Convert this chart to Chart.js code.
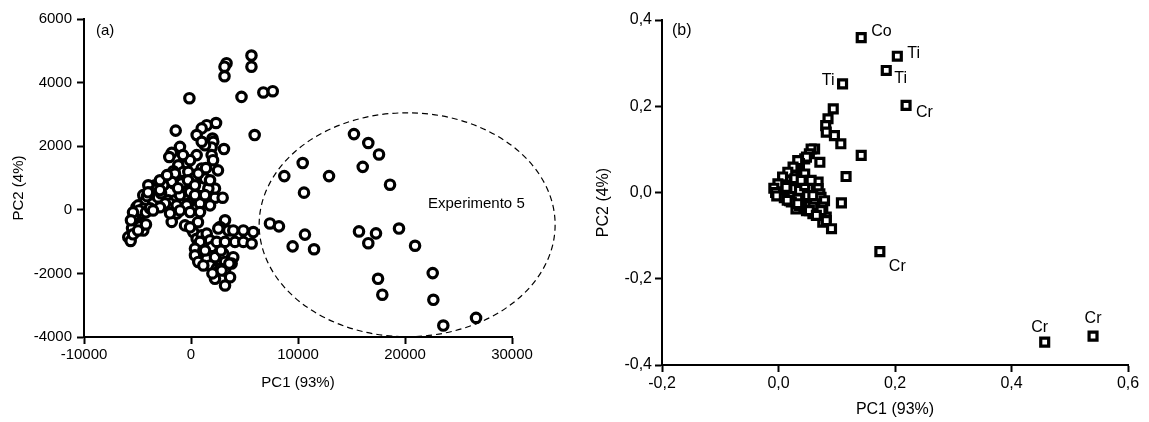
<!DOCTYPE html>
<html>
<head>
<meta charset="utf-8">
<script src="https://cdn.jsdelivr.net/npm/chart.js@4.4.1/dist/chart.umd.min.js"></script>
<style>
  html, body { margin: 0; padding: 0; background: #fff; }
  #wrap { position: relative; width: 1149px; height: 422px; overflow: hidden; }
  #scores { position: absolute; left: 0; top: 0; }
  #loadings { position: absolute; left: 574px; top: 0; }
</style>
</head>
<body>
<div id="wrap">
  <canvas id="scores" width="574" height="422"></canvas>
  <canvas id="loadings" width="575" height="422"></canvas>
</div>
<script>
const FONT = "'Liberation Sans', Arial, Helvetica, sans-serif";

// ---- (a) PCA scores ----
const clusterPC1 = [
  -150, 3320, 3130, 3130, 5650, 5650, 4720, 6760, 7640, 5950,
  -1430, -1030, -1800, -2030, 2340, 1470, 1000, 530, 2010, 2080,
  3080, 1930, 1930, 1310, 1000, 530, -400, -1190, -720, -1650,
  -250, 1000, 840, 1150, 210, -1500, -2430, -3360, -1650, -720,
  1000, -2120, -1500, -1030, -90, 2240, 2960, 840, -250, 2240,
  -3830, -4460, -5080, 1620, 1310, 680, -1500, -1800, -2590, -3990,
  -3830, -3360, -2900, -4300, -4930, -4460, -4610, -5080, -4930, -4460,
  -5230, -5860, -5640, -1030, -1960, -2430, -1340, -1340, -400, -90,
  840, -1800, -560, 210, 530, 1000, 1470, 1780, 840, 370,
  1150, 1930, 2400, 3180, 2710, 3490, 3950, 4890, 5820, 4110,
  4890, 5670, 3180, 370, 680, 1470, 2240, 3020, 3950, 3800,
  3180, 1780, 1150, 2400, 3180, 2240, 3650, 3180, 2710, 2550,
  3580, 2870,
  -5510, -5330, -4860, -4110, -3650, -3180, -5420, -4770, -4210, -3550,
  -3080, -2800, -3830, -2900, -870,
  -2900, -2240, -1210, -280, 370, 1310, 1780, -1030, -1960, -2900,
  -3550, 370, 1400, 2060, -90, -750, 2520, 1780, -4020, -5420,
  -5610, -4950, -4210, 1310, 650, -90, 2800, 2000
];
const clusterPC2 = [
  3510, 4610, 4500, 4200, 4850, 4500, 3550, 3690, 3730, 2350,
  2490, 1980, 1790, 1660, 2730, 2660, 2560, 2350, 2240, 2140,
  1910, 1960, 1720, 2030, 2140, 1720, 1460, 1400, 1190, 1210,
  1190, 1300, 1090, 980, 980, 930, 830, 770, 830, 830,
  720, 300, 300, 510, 560, 380, 380, 200, 200, 670,
  720, 460, 90, 670, 980, 1140, 1140, 880, 770, 770,
  350, 510, 300, 250, 140, 40, -120, -330, -490, -650,
  -700, -860, -980, 460, 200, 200, 140, -120, 140, -70,
  -70, -380, -490, -700, -910, -800, -750, -960, -1010, -1220,
  -1280, -1170, -1010, -330, -540, -650, -650, -650, -700, -1010,
  -1010, -1060, -1010, -1430, -1640, -1540, -1490, -1380, -1490, -1690,
  -1640, -1750, -1750, -1850, -1910, -2170, -2120, -2380, -1850, -590,
  -1690, -1910,
  -580, -270, -20, 430, 550, 650, -770, -520, -80, 200,
  390, 520, 50, 620, 830,
  930, 1090, 680, 930, 460, 460, 140, -20, -110, 80,
  -20, 770, 1310, 1560, 1560, 1720, 1240, 930, 550, -80,
  -330, -650, -460, -1280, -390, -550, -1280, -2000
];
const exp5PC1 = [
  15230, 16570, 17570, 10440, 12900, 16050, 18600, 8720, 10560, 7380,
  8220, 9500, 10650, 11500, 15700, 17290, 16570, 19440, 20940, 17480,
  17880, 22590, 22650, 23580, 26640
];
const exp5PC2 = [
  2380, 2100, 1740, 1470, 1060, 1350, 790, 1060, 540, -430,
  -520, -1150, -780, -1240, -680, -740, -1050, -590, -1130, -2170,
  -2670, -1990, -2830, -3640, -3400
];
const scoreTicksX = [-10000, 0, 10000, 20000, 30000];
const scoreTicksY = [-4000, -2000, 0, 2000, 4000, 6000];

// ---- (b) loadings ----
const elemPC1 = [
  0.094, 0.085, 0.081, 0.082, 0.096, 0.107, 0.142, 0.116, 0.108,
  0.062, 0.056, 0.053, 0.071, 0.045, 0.048, 0.036, 0.033, 0.028, 0.045, 0.025,
  0.025, 0.016, 0.013, 0.007, 0.005, 0.002, -0.001, 0.007, 0.007, 0.025,
  0.028, 0.013, 0.036, 0.045, 0.065, 0.068, 0.068, 0.071, 0.050, 0.059,
  0.073, 0.036, 0.033, 0.019, 0.053, 0.062, 0.079, 0.076, 0.030, 0.059,
  0.076, 0.091, 0.082, 0.082, 0.036, 0.022, 0.059, 0.048, 0.053, 0.073,
  0.033, 0.065, 0.028, 0.039, 0.056, -0.008, -0.005, -0.003, 0.010, 0.015
];
const elemPC2 = [
  0.194, 0.171, 0.155, 0.140, 0.132, 0.113, 0.086, 0.037, -0.024,
  0.101, 0.101, 0.090, 0.070, 0.078, 0.082, 0.067, 0.074, 0.055, 0.043, 0.039,
  0.059, 0.047, 0.028, 0.036, 0.016, 0.005, 0.020, -0.003, -0.007, 0.016,
  0.009, 0.012, 0.005, 0.016, 0.012, 0.024, 0.009, -0.003, -0.007, -0.007,
  -0.011, -0.019, -0.015, -0.019, -0.030, -0.026, -0.019, -0.034, -0.038, -0.034,
  -0.069, -0.084, -0.057, -0.065, -0.030, -0.022, -0.049, -0.042, -0.042, -0.042,
  -0.026, -0.053, 0.032, 0.028, 0.028, 0.010, 0.000, -0.008, -0.012, -0.018
];
const namedPC1 = [0.142, 0.204, 0.185, 0.219, 0.110, 0.174, 0.457, 0.540];
const namedPC2 = [0.359, 0.316, 0.283, 0.202, 0.252, -0.137, -0.347, -0.333];
const namedElements = ['Co', 'Ti', 'Ti', 'Cr', 'Ti', 'Cr', 'Cr', 'Cr'];
const loadTicksX = [-0.2, 0, 0.2, 0.4, 0.6];
const loadTicksY = [-0.4, -0.2, 0, 0.2, 0.4];

// label placement next to each named marker: [dx, dy, textAlign]
const namedPlacement = [
  [10, -6, 'left'], [10, -3, 'left'], [8, 8, 'left'], [10, 7, 'left'],
  [-8, -3, 'right'], [9, 15, 'left'], [-5, -15, 'center'], [0, -18, 'center']
];

const toPoints = (xs, ys) => xs.map((v, i) => ({ x: v, y: ys[i] }));
const commaFmt = v => Number(v).toFixed(1).replace('.', ',');

// decorations: ellipse, panel tag, axis titles, notes, marker labels
const decor = {
  id: 'decor',
  beforeDatasetsDraw(chart, args, o) {
    if (!o.ellipse) return;
    const { ctx, scales: { x, y } } = chart;
    const e = o.ellipse;
    const cx = x.getPixelForValue(e.cx), cy = y.getPixelForValue(e.cy);
    const rx = Math.abs(x.getPixelForValue(e.cx + e.rx) - cx);
    const ry = Math.abs(y.getPixelForValue(e.cy + e.ry) - cy);
    ctx.save();
    ctx.setLineDash([6, 4]);
    ctx.lineWidth = 1.2;
    ctx.strokeStyle = '#000';
    ctx.beginPath();
    ctx.ellipse(cx, cy, rx, ry, 0, 0, Math.PI * 2);
    ctx.stroke();
    ctx.restore();
  },
  afterDraw(chart, args, o) {
    const { ctx, chartArea: a, scales: { x, y } } = chart;
    ctx.save();
    ctx.fillStyle = '#000';
    ctx.font = o.size + 'px ' + FONT;
    // panel tag
    ctx.textAlign = 'left';
    ctx.textBaseline = 'middle';
    ctx.fillText(o.tag, a.left + o.tagDx, a.top + o.tagDy);
    // x title
    ctx.textAlign = 'center';
    ctx.fillText(o.xTitle, (a.left + a.right) / 2, a.bottom + o.xTitleGap);
    // y title
    ctx.save();
    ctx.translate(a.left - o.yTitleGap, (a.top + a.bottom) / 2 + o.yTitleShift);
    ctx.rotate(-Math.PI / 2);
    ctx.fillText(o.yTitle, 0, 0);
    ctx.restore();
    // free notes in data coordinates
    (o.notes || []).forEach(n => {
      ctx.textAlign = 'left';
      ctx.fillText(n.text, x.getPixelForValue(n.x), y.getPixelForValue(n.y));
    });
    // element names beside markers
    if (o.markerLabels) {
      ctx.font = o.markerLabels.size + 'px ' + FONT;
      const meta = chart.getDatasetMeta(o.markerLabels.dataset);
      meta.data.forEach((pt, i) => {
        const [dx, dy, al] = namedPlacement[i];
        ctx.textAlign = al;
        ctx.fillText(o.markerLabels.names[i], pt.x + dx, pt.y + dy);
      });
    }
    ctx.restore();
  }
};

function axis(ticksArr, fontSize, fmt, pad, fitProp, fitVal) {
  return {
    type: 'linear',
    min: ticksArr[0],
    max: ticksArr[ticksArr.length - 1],
    afterBuildTicks: s => { s.ticks = ticksArr.map(v => ({ value: v })); },
    afterFit: s => { s[fitProp] = fitVal; },
    grid: { drawOnChartArea: false, drawTicks: true, tickLength: 7, tickWidth: 2, tickColor: '#000', color: '#000' },
    border: { display: true, color: '#000', width: 2 },
    ticks: { color: '#000', padding: pad, font: { family: FONT, size: fontSize }, callback: fmt, maxRotation: 0, autoSkip: false }
  };
}

const markerStyle = {
  borderColor: '#000',
  backgroundColor: '#fff',
  borderWidth: 3.2
};

new Chart(document.getElementById('scores'), {
  type: 'scatter',
  data: {
    datasets: [
      Object.assign({ data: toPoints(clusterPC1, clusterPC2), pointStyle: 'circle', pointRadius: 4.7 }, markerStyle),
      Object.assign({ data: toPoints(exp5PC1, exp5PC2), pointStyle: 'circle', pointRadius: 4.7 }, markerStyle)
    ]
  },
  options: {
    responsive: false,
    animation: false,
    devicePixelRatio: 1,
    layout: { padding: { top: 19, right: 62, left: 0, bottom: 0 } },
    scales: {
      x: axis(scoreTicksX, 15, v => String(v), 2, 'height', 85),
      y: axis(scoreTicksY, 15, v => String(v), 5, 'width', 84)
    },
    plugins: {
      legend: { display: false },
      tooltip: { enabled: false },
      decor: {
        size: 15, tag: '(a)', tagDx: 12, tagDy: 12,
        xTitle: 'PC1 (93%)', xTitleGap: 46,
        yTitle: 'PC2 (4%)', yTitleGap: 65, yTitleShift: 10,
        ellipse: { cx: 20200, cy: -470, rx: 13830, ry: 3520 },
        notes: [{ text: 'Experimento 5', x: 22150, y: 173 }]
      }
    }
  },
  plugins: [decor]
});

new Chart(document.getElementById('loadings'), {
  type: 'scatter',
  data: {
    datasets: [
      Object.assign({ data: toPoints(elemPC1, elemPC2), pointStyle: 'rect', pointRadius: 5.6 }, markerStyle),
      Object.assign({ data: toPoints(namedPC1, namedPC2), pointStyle: 'rect', pointRadius: 5.6 }, markerStyle)
    ]
  },
  options: {
    responsive: false,
    animation: false,
    devicePixelRatio: 1,
    layout: { padding: { top: 20, right: 21, left: 0, bottom: 0 } },
    scales: {
      x: axis(loadTicksX, 16, commaFmt, 2, 'height', 57),
      y: axis(loadTicksY, 16, commaFmt, 3, 'width', 88)
    },
    plugins: {
      legend: { display: false },
      tooltip: { enabled: false },
      decor: {
        size: 16, tag: '(b)', tagDx: 10, tagDy: 11,
        xTitle: 'PC1 (93%)', xTitleGap: 45,
        yTitle: 'PC2 (4%)', yTitleGap: 58, yTitleShift: 10,
        markerLabels: { dataset: 1, names: namedElements, size: 16 }
      }
    }
  },
  plugins: [decor]
});
</script>
</body>
</html>
